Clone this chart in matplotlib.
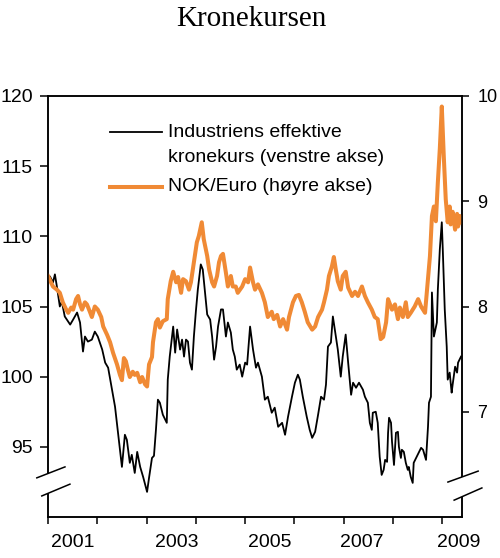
import matplotlib
matplotlib.use("Agg")
import matplotlib.pyplot as plt
from matplotlib.lines import Line2D
from matplotlib.patches import Polygon

# ---------------- data ----------------
black_x = [2001.00, 2001.04, 2001.10, 2001.14, 2001.18, 2001.24, 2001.28, 2001.34, 2001.45, 2001.51,
           2001.59, 2001.65, 2001.71, 2001.75, 2001.81, 2001.89, 2001.95, 2002.01, 2002.10, 2002.16,
           2002.22, 2002.30, 2002.36, 2002.42, 2002.50, 2002.56, 2002.60, 2002.66, 2002.70, 2002.76,
           2002.81, 2002.87, 2002.93, 2003.01, 2003.05, 2003.11, 2003.15, 2003.19, 2003.23, 2003.27,
           2003.33, 2003.41, 2003.43, 2003.47, 2003.54, 2003.58, 2003.62, 2003.68, 2003.72, 2003.76,
           2003.80, 2003.84, 2003.88, 2003.92, 2003.96, 2004.00, 2004.04, 2004.10, 2004.14, 2004.18,
           2004.23, 2004.29, 2004.33, 2004.37, 2004.41, 2004.45, 2004.51, 2004.55, 2004.61, 2004.65,
           2004.71, 2004.75, 2004.79, 2004.83, 2004.89, 2004.94, 2005.00, 2005.04, 2005.10, 2005.16,
           2005.22, 2005.26, 2005.34, 2005.40, 2005.46, 2005.54, 2005.60, 2005.67, 2005.75, 2005.81,
           2005.87, 2005.95, 2006.01, 2006.07, 2006.11, 2006.17, 2006.25, 2006.31, 2006.36, 2006.42,
           2006.48, 2006.54, 2006.60, 2006.64, 2006.68, 2006.74, 2006.78, 2006.84, 2006.88, 2006.94,
           2006.98, 2007.04, 2007.09, 2007.15, 2007.19, 2007.25, 2007.31, 2007.39, 2007.43, 2007.49,
           2007.53, 2007.57, 2007.59, 2007.65, 2007.69, 2007.73, 2007.77, 2007.81, 2007.84, 2007.88,
           2007.90, 2007.92, 2007.96, 2007.98, 2008.02, 2008.06, 2008.10, 2008.12, 2008.16, 2008.18,
           2008.22, 2008.26, 2008.30, 2008.32, 2008.36, 2008.40, 2008.42, 2008.48, 2008.53, 2008.57,
           2008.61, 2008.67, 2008.71, 2008.73, 2008.77, 2008.79, 2008.83, 2008.89, 2008.91, 2008.95,
           2008.99, 2009.01, 2009.05, 2009.09, 2009.11, 2009.15, 2009.19, 2009.21, 2009.26, 2009.30,
           2009.32, 2009.38]
industri_kurs = [107.07, 107.14, 106.71, 107.29, 106.43, 105.00, 105.36, 104.29, 103.71, 104.07,
                 104.57, 103.86, 101.79, 102.86, 102.50, 102.64, 103.21, 102.86, 101.93, 101.00,
                 100.64, 99.07, 97.86, 96.00, 93.57, 95.86, 95.50, 93.86, 94.43, 93.14,
                 94.64, 93.57, 92.86, 91.79, 92.79, 94.21, 94.36, 96.21, 98.36, 98.14,
                 97.29, 96.71, 99.79, 101.43, 103.57, 101.71, 103.36, 101.93, 102.64, 101.43,
                 102.64, 102.50, 101.00, 100.50, 102.86, 104.64, 106.21, 108.00, 107.64, 106.21,
                 104.43, 104.07, 102.86, 101.21, 102.14, 103.57, 104.79, 104.79, 102.86, 103.86,
                 103.14, 101.93, 101.43, 100.50, 100.86, 100.00, 101.00, 100.86, 103.57, 101.93,
                 100.64, 101.00, 100.00, 98.36, 98.57, 97.43, 97.79, 96.43, 96.71, 95.86,
                 97.14, 98.57, 99.57, 100.14, 99.79, 98.57, 97.14, 96.21, 95.64, 96.07,
                 97.29, 98.57, 98.36, 99.43, 102.14, 102.43, 104.29, 102.86, 101.93, 100.00,
                 101.43, 103.00, 101.00, 98.71, 99.57, 99.21, 99.57, 99.07, 98.57, 98.14,
                 96.71, 96.21, 97.43, 97.50, 96.71, 94.29, 93.00, 93.36, 94.07, 93.93,
                 96.00, 97.07, 96.71, 95.36, 93.71, 96.00, 96.07, 95.00, 94.21, 94.79,
                 94.64, 93.86, 93.36, 93.57, 92.86, 92.43, 93.86, 94.29, 94.64, 94.93,
                 94.79, 94.07, 96.43, 98.14, 98.57, 106.00, 102.86, 103.86, 106.21, 109.07,
                 111.00, 109.07, 104.79, 102.14, 99.79, 100.29, 98.86, 99.43, 100.71, 100.29,
                 101.00, 101.43]

orange_x = [2001.00, 2001.06, 2001.10, 2001.18, 2001.24, 2001.30, 2001.37, 2001.41, 2001.47, 2001.51,
            2001.57, 2001.61, 2001.65, 2001.69, 2001.75, 2001.79, 2001.85, 2001.89, 2001.95, 2002.01,
            2002.08, 2002.12, 2002.20, 2002.26, 2002.32, 2002.40, 2002.46, 2002.50, 2002.54, 2002.58,
            2002.62, 2002.66, 2002.72, 2002.76, 2002.81, 2002.87, 2002.91, 2002.97, 2003.01, 2003.05,
            2003.11, 2003.13, 2003.19, 2003.23, 2003.27, 2003.33, 2003.41, 2003.43, 2003.49, 2003.54,
            2003.60, 2003.64, 2003.70, 2003.74, 2003.80, 2003.86, 2003.90, 2003.96, 2004.02, 2004.06,
            2004.12, 2004.16, 2004.23, 2004.27, 2004.33, 2004.37, 2004.43, 2004.47, 2004.51, 2004.55,
            2004.61, 2004.65, 2004.71, 2004.75, 2004.81, 2004.85, 2004.94, 2005.00, 2005.06, 2005.10,
            2005.16, 2005.20, 2005.26, 2005.34, 2005.40, 2005.46, 2005.54, 2005.58, 2005.65, 2005.71,
            2005.77, 2005.85, 2005.89, 2005.97, 2006.03, 2006.09, 2006.15, 2006.21, 2006.27, 2006.36,
            2006.42, 2006.48, 2006.56, 2006.60, 2006.66, 2006.70, 2006.76, 2006.80, 2006.84, 2006.88,
            2006.94, 2006.98, 2007.04, 2007.09, 2007.17, 2007.23, 2007.29, 2007.37, 2007.43, 2007.49,
            2007.57, 2007.63, 2007.69, 2007.75, 2007.80, 2007.86, 2007.90, 2007.98, 2008.04, 2008.10,
            2008.14, 2008.20, 2008.26, 2008.30, 2008.36, 2008.44, 2008.51, 2008.57, 2008.65, 2008.71,
            2008.75, 2008.79, 2008.83, 2008.87, 2008.91, 2008.95, 2008.99, 2009.03, 2009.07, 2009.11,
            2009.15, 2009.17, 2009.21, 2009.26, 2009.30, 2009.32, 2009.36, 2009.40]
nok_euro = [8.29, 8.23, 8.19, 8.16, 8.13, 8.04, 7.97, 7.94, 7.99, 7.97,
            8.07, 8.10, 8.02, 7.97, 8.04, 8.02, 7.95, 7.90, 8.00, 7.97,
            7.90, 7.81, 7.73, 7.66, 7.56, 7.45, 7.35, 7.30, 7.51, 7.48,
            7.40, 7.33, 7.38, 7.35, 7.37, 7.28, 7.33, 7.26, 7.24, 7.45,
            7.52, 7.66, 7.85, 7.88, 7.80, 7.86, 7.88, 8.07, 8.24, 8.33,
            8.23, 8.28, 8.13, 8.26, 8.24, 8.16, 8.23, 8.42, 8.61, 8.67,
            8.80, 8.64, 8.48, 8.35, 8.23, 8.19, 8.29, 8.42, 8.48, 8.50,
            8.32, 8.19, 8.29, 8.19, 8.19, 8.13, 8.19, 8.26, 8.23, 8.37,
            8.23, 8.16, 8.21, 8.13, 8.04, 7.90, 7.95, 7.88, 7.92, 7.81,
            7.88, 7.78, 7.90, 8.04, 8.10, 8.11, 8.04, 7.95, 7.85, 7.78,
            7.81, 7.90, 7.97, 8.04, 8.16, 8.29, 8.38, 8.47, 8.35, 8.24,
            8.16, 8.29, 8.33, 8.18, 8.10, 8.14, 8.10, 8.19, 8.10, 8.04,
            7.97, 7.90, 7.88, 7.69, 7.71, 7.85, 8.07, 7.97, 8.02, 7.88,
            7.99, 7.90, 8.04, 7.90, 7.94, 8.00, 8.07, 8.00, 7.94, 8.26,
            8.48, 8.86, 8.95, 8.81, 9.18, 9.50, 9.90, 9.43, 9.02, 8.80,
            8.95, 8.78, 8.90, 8.73, 8.88, 8.76, 8.86, 8.80]

year_ticks = [2001, 2002, 2003, 2004, 2005, 2006, 2007, 2008, 2009]
year_labels = ["2001", "2003", "2005", "2007", "2009"]
left_ticks = [95, 100, 105, 110, 115, 120]
right_ticks = [7, 8, 9, 10]

title = "Kronekursen"
label_black_1 = "Industriens effektive"
label_black_2 = "kronekurs (venstre akse)"
label_orange = "NOK/Euro (høyre akse)"

# ---------------- style / layout ----------------
ORANGE = "#F08A35"
SANS = ["Liberation Sans", "DejaVu Sans"]
SERIF = ["Liberation Serif", "DejaVu Serif"]
plt.rcParams["font.family"] = SANS
FS = 14

W, H = 500, 558
fig = plt.figure(figsize=(W / 100, H / 100), dpi=100)
L, R, B, T = 48, 462, 517, 96
ax = fig.add_axes([L / W, 1 - B / H, (R - L) / W, (B - T) / H])
ax2 = ax.twinx()

ax.plot(black_x, industri_kurs, color="black", lw=1.3, solid_joinstyle="round")
ax2.plot(orange_x, nok_euro, color=ORANGE, lw=2.9, solid_joinstyle="round")

ax.set_xlim(2001.0, 2009.40)
ax.set_ylim(90, 120)
ax2.set_ylim(6, 10)

for a in (ax, ax2):
    for s in a.spines.values():
        s.set_linewidth(1.1)

ax.set_yticks(left_ticks)
ax.set_yticklabels([str(v) for v in left_ticks])
ax2.set_yticks(right_ticks)
ax2.set_yticklabels([str(v) for v in right_ticks])

ax.set_xticks(year_ticks)
ax.set_xticklabels([""] * len(year_ticks))
label_pos = [2001.51, 2003.62, 2005.50, 2007.37, 2009.34]
ax.set_xticks(label_pos, minor=True)
ax.set_xticklabels(year_labels, minor=True)
ax.tick_params(axis="x", which="major", direction="out", length=5, width=1.1)
ax.tick_params(axis="x", which="minor", length=0, pad=12, labelsize=FS)
ax.tick_params(axis="y", direction="out", length=6, width=1.1, labelsize=FS, pad=5)
ax2.tick_params(axis="y", direction="out", length=5, width=1.1, labelsize=13, pad=6)

# title
fig.text(251 / W, 1 - 26 / H, title, ha="center", va="baseline",
         family=SERIF, fontsize=21)

# legend (manual)
ax.add_line(Line2D([0.150, 0.275], [0.914, 0.914], transform=ax.transAxes,
                   color="black", lw=1.3))
ax.text(0.290, 0.914, label_black_1, transform=ax.transAxes,
        ha="left", va="center", fontsize=FS)
ax.text(0.290, 0.853, label_black_2, transform=ax.transAxes,
        ha="left", va="center", fontsize=FS)
ax2.add_line(Line2D([0.150, 0.275], [0.784, 0.784], transform=ax2.transAxes,
                    color=ORANGE, lw=2.9))
ax2.text(0.290, 0.784, label_orange, transform=ax2.transAxes,
         ha="left", va="center", fontsize=FS)

# axis break marks
def axis_break(a, xa, ya, xb, yb):
    poly = Polygon([[xa[0], ya[0]], [xa[1], ya[1]], [xb[1], yb[1]], [xb[0], yb[0]]],
                   closed=True, transform=a.transAxes, facecolor="white",
                   edgecolor="none", clip_on=False, zorder=5)
    a.add_patch(poly)
    for xs, ys in ((xa, ya), (xb, yb)):
        a.add_line(Line2D(xs, ys, transform=a.transAxes, color="black",
                          lw=1.1, clip_on=False, zorder=6))

axis_break(ax2, [-0.027, 0.041], [0.093, 0.119], [-0.015, 0.053], [0.050, 0.078])
axis_break(ax2, [0.966, 1.039], [0.083, 0.109], [0.981, 1.048], [0.040, 0.069])

fig.savefig("out.png", dpi=100)
